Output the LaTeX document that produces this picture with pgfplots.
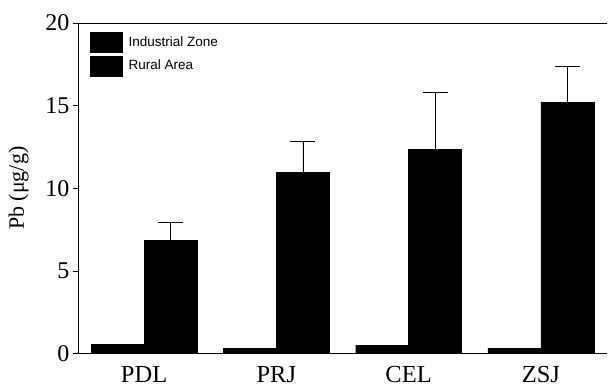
\documentclass[border=0pt]{standalone}
\usepackage{fontspec}
\setmainfont{Liberation Serif}
\setsansfont{Liberation Sans}
\usepackage{pgfplots}
\pgfplotsset{compat=1.18}
\begin{document}
\begin{tikzpicture}
\begin{axis}[
  scale only axis,
  width=529pt, height=330.5pt,
  xmin=-0.5, xmax=3.5,
  ymin=0, ymax=20,
  ytick={0,5,10,15,20},
  xtick={0,1,2,3},
  xticklabels={PDL,PRJ,CEL,ZSJ},
  extra x ticks={0.5,1.5,2.5},
  extra x tick labels={},
  extra x tick style={major tick length=5pt, tick align=inside, tick style={black, thin}},
  major x tick style={draw=none},
  ytick align=outside,
  ytick pos=left,
  major tick length=5pt,
  axis x line*=bottom,
  axis y line*=left,
  tick style={black, thin},
  ticklabel style={font=\fontsize{24}{24}\selectfont},
  xticklabel style={font=\fontsize{24.5}{24.5}\selectfont, yshift=-4pt},
  ylabel={Pb (μg/g)},
  ylabel style={font=\fontsize{22}{22}\selectfont, yshift=10pt},
  /pgf/number format/assume math mode=true,
  bar width=0.4,
  ybar,
  legend style={at={(rel axis cs:0,1)}, anchor=north west, xshift=9pt, yshift=-7pt,
    draw=none, fill=none, font=\sffamily\fontsize{13.5}{13.5}\selectfont,
    row sep=3pt, nodes={inner xsep=6pt}},
  legend cell align=left,
  legend image code/.code={\fill[black] (0pt,-10pt) rectangle (32pt,10pt);},
  clip=false,
]
\coordinate (bl) at (rel axis cs:0,0);
\draw[thin] (rel axis cs:0,1) -- (rel axis cs:1,1);
\addplot[fill=black, draw=black, bar shift=-0.2] coordinates {(0,0.55) (1,0.33) (2,0.5) (3,0.33)};
\addlegendentry{Industrial Zone}
\addplot[fill=black, draw=black, bar shift=0.2,
  error bars/.cd, y dir=plus, y explicit,
  error mark options={rotate=90, mark size=12.5pt, thin, black},
  error bar style={thin, black}]
  coordinates {(0,6.86) +- (0,1.08) (1,10.97) +- (0,1.87) (2,12.36) +- (0,3.44) (3,15.2) +- (0,2.17)};
\addlegendentry{Rural Area}
\end{axis}
\pgfresetboundingbox
\path (bl) ++(-78pt,-35.5pt) rectangle ++(610pt,389pt);
\end{tikzpicture}
\end{document}
